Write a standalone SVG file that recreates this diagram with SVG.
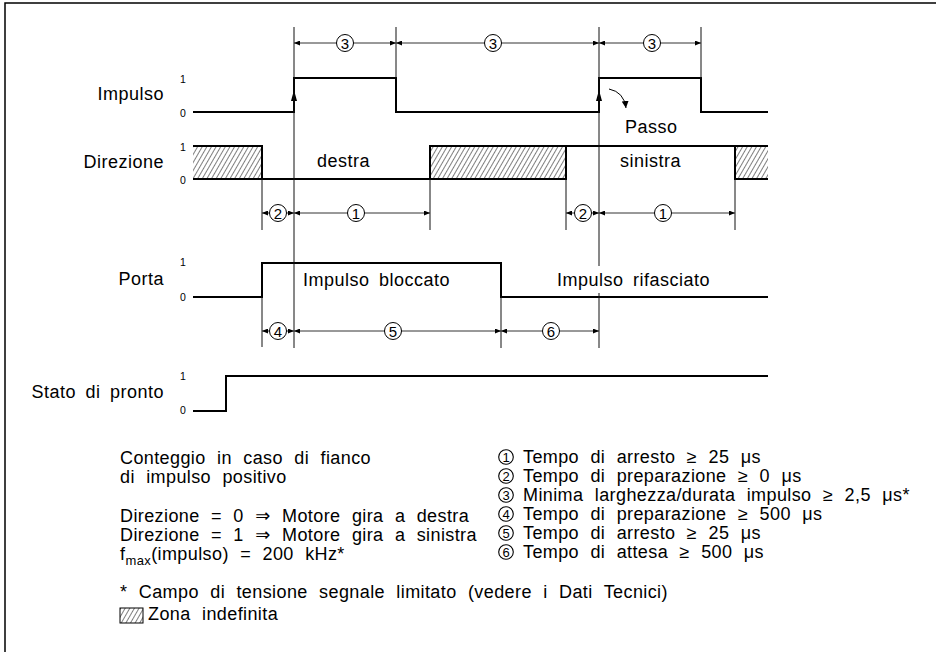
<svg xmlns="http://www.w3.org/2000/svg" width="936" height="652" viewBox="0 0 936 652">
<style>
text{font-family:"Liberation Sans","DejaVu Sans","Noto Sans CJK JP",sans-serif;fill:#000}
.lbl{font-size:18px;letter-spacing:0.5px;word-spacing:4px}
.leg{font-size:18px;letter-spacing:0.4px;word-spacing:6px}
.end{text-anchor:end}
.lv{font-size:10.5px}
.sig{fill:none;stroke:#000;stroke-width:2}
.ext{fill:none;stroke:#111;stroke-width:1}
.dim{fill:none;stroke:#333;stroke-width:1;marker-start:url(#ah);marker-end:url(#ah)}
.cn circle{fill:#fff;stroke:#000;stroke-width:1}
.cn text{font-size:15px;text-anchor:middle}
.lc circle{fill:none;stroke:#000;stroke-width:1.1}
.lc text{font-size:13px;text-anchor:middle}
.sym{font-family:"DejaVu Sans","Noto Sans CJK JP",sans-serif}
</style>
<defs>
<marker id="ah" markerUnits="userSpaceOnUse" markerWidth="7" markerHeight="5" refX="6" refY="2.5" orient="auto-start-reverse" viewBox="0 0 7 5">
<path d="M0,0 L6,2.5 L0,5 z" fill="#000"/>
</marker>
<marker id="ah2" markerUnits="userSpaceOnUse" markerWidth="8" markerHeight="7" refX="7" refY="3.5" orient="auto" viewBox="0 0 8 7">
<path d="M0,0 L7,3.5 L0,7 z" fill="#000"/>
</marker>
<pattern id="hatch" width="4" height="4" patternUnits="userSpaceOnUse" patternTransform="rotate(30)">
<line x1="0" y1="0" x2="0" y2="4" stroke="#000" stroke-width="1"/>
</pattern>
</defs>
<rect width="936" height="652" fill="#fff"/>
<path d="M5,652 V3 H936" fill="none" stroke="#000" stroke-width="1.5"/>

<g id="impulso">
<text class="lbl end" x="164" y="100">Impulso</text>
<text class="lv" x="180" y="83">1</text>
<text class="lv" x="180" y="117">0</text>
<path class="sig" d="M193,112 H294 V78 H396 V112 H599 V78 H701 V112 H768"/>
<polygon points="294,90 291,101 297,101" fill="#000"/>
<polygon points="599,90 596,101 602,101" fill="#000"/>
<path d="M609,89 Q624,92 626,108" fill="none" stroke="#000" stroke-width="1" marker-end="url(#ah2)"/>
<text class="lbl" x="625" y="133">Passo</text>
</g>

<g id="direzione">
<text class="lbl end" x="164" y="168">Direzione</text>
<text class="lv" x="180" y="151">1</text>
<text class="lv" x="180" y="184">0</text>
<rect x="193" y="146" width="69" height="33" fill="url(#hatch)"/>
<rect x="430" y="146" width="136" height="33" fill="url(#hatch)"/>
<rect x="735" y="146" width="33" height="33" fill="url(#hatch)"/>
<path class="sig" d="M193,146 H262 V179 M193,179 H430 V146 H768 M430,179 H566 V146 M735,146 V179 H768"/>
<text class="lbl" x="317" y="167">destra</text>
<text class="lbl" x="620" y="167">sinistra</text>
</g>

<g id="porta">
<text class="lbl end" x="164" y="285">Porta</text>
<text class="lv" x="180" y="266">1</text>
<text class="lv" x="180" y="301">0</text>
<path class="sig" d="M193,297 H262 V263 H501 V297 H768"/>
<text class="lbl" x="303" y="286">Impulso bloccato</text>
<text class="lbl" x="557" y="286">Impulso rifasciato</text>
</g>

<g id="pronto">
<text class="lbl end" x="164" y="398">Stato di pronto</text>
<text class="lv" x="180" y="380">1</text>
<text class="lv" x="180" y="414">0</text>
<path class="sig" d="M193,411 H226 V376 H768"/>
</g>

<g id="connectors">
<path class="ext" d="M294,27 V348 M396,27 V78 M599,27 V266 M599,293 V348 M701,27 V78"/>
<path class="ext" d="M262,179 V230 M430,179 V230 M566,179 V230 M735,179 V230"/>
<path class="ext" d="M262,297 V347 M501,297 V348"/>
<line class="dim" x1="294" y1="43" x2="396" y2="43"/>
<line class="dim" x1="396" y1="43" x2="599" y2="43"/>
<line class="dim" x1="599" y1="43" x2="701" y2="43"/>
<line class="dim" x1="262" y1="213" x2="294" y2="213"/>
<line class="dim" x1="294" y1="213" x2="430" y2="213"/>
<line class="dim" x1="566" y1="213" x2="599" y2="213"/>
<line class="dim" x1="599" y1="213" x2="735" y2="213"/>
<line class="dim" x1="262" y1="331" x2="294" y2="331"/>
<line class="dim" x1="294" y1="331" x2="501" y2="331"/>
<line class="dim" x1="501" y1="331" x2="599" y2="331"/>
<g class="cn">
<circle cx="345" cy="43" r="8.5"/><text x="345" y="48.5">3</text>
<circle cx="493" cy="43" r="8.5"/><text x="493" y="48.5">3</text>
<circle cx="652" cy="43" r="8.5"/><text x="652" y="48.5">3</text>
<circle cx="278" cy="213" r="8.5"/><text x="278" y="218.5">2</text>
<circle cx="356" cy="213" r="8.5"/><text x="356" y="218.5">1</text>
<circle cx="583" cy="213" r="8.5"/><text x="583" y="218.5">2</text>
<circle cx="663" cy="213" r="8.5"/><text x="663" y="218.5">1</text>
<circle cx="278" cy="331" r="8.5"/><text x="278" y="336.5">4</text>
<circle cx="393" cy="331" r="8.5"/><text x="393" y="336.5">5</text>
<circle cx="551" cy="331" r="8.5"/><text x="551" y="336.5">6</text>
</g>
</g>

<g id="legend-left">
<text class="leg" x="120" y="464">Conteggio in caso di fianco</text>
<text class="leg" x="120" y="483">di impulso positivo</text>
<text class="leg" x="120" y="522">Direzione = 0 <tspan class="sym">⇒</tspan> Motore gira a destra</text>
<text class="leg" x="120" y="541">Direzione = 1 <tspan class="sym">⇒</tspan> Motore gira a sinistra</text>
<text class="leg" x="120" y="560">f<tspan font-size="13" dy="5">max</tspan><tspan dy="-5">(impulso) = 200 kHz*</tspan></text>
<text class="leg" x="120" y="598">* Campo di tensione segnale limitato (vedere i Dati Tecnici)</text>
<rect x="120" y="608" width="23" height="15" fill="url(#hatch)" stroke="#000" stroke-width="1"/>
<text class="leg" x="148" y="620">Zona indefinita</text>
</g>

<g id="legend-right">
<g class="lc">
<circle cx="506" cy="457" r="7.3"/><text x="506" y="461.5">1</text>
<circle cx="506" cy="476" r="7.3"/><text x="506" y="480.5">2</text>
<circle cx="506" cy="495" r="7.3"/><text x="506" y="499.5">3</text>
<circle cx="506" cy="514" r="7.3"/><text x="506" y="518.5">4</text>
<circle cx="506" cy="533" r="7.3"/><text x="506" y="537.5">5</text>
<circle cx="506" cy="552" r="7.3"/><text x="506" y="556.5">6</text>
</g>
<text class="leg" x="523" y="463">Tempo di arresto ≥ 25 μs</text>
<text class="leg" x="523" y="482">Tempo di preparazione ≥ 0 μs</text>
<text class="leg" x="523" y="501">Minima larghezza/durata impulso ≥ 2,5 μs*</text>
<text class="leg" x="523" y="520">Tempo di preparazione ≥ 500 μs</text>
<text class="leg" x="523" y="539">Tempo di arresto ≥ 25 μs</text>
<text class="leg" x="523" y="558">Tempo di attesa ≥ 500 μs</text>
</g>
</svg>
